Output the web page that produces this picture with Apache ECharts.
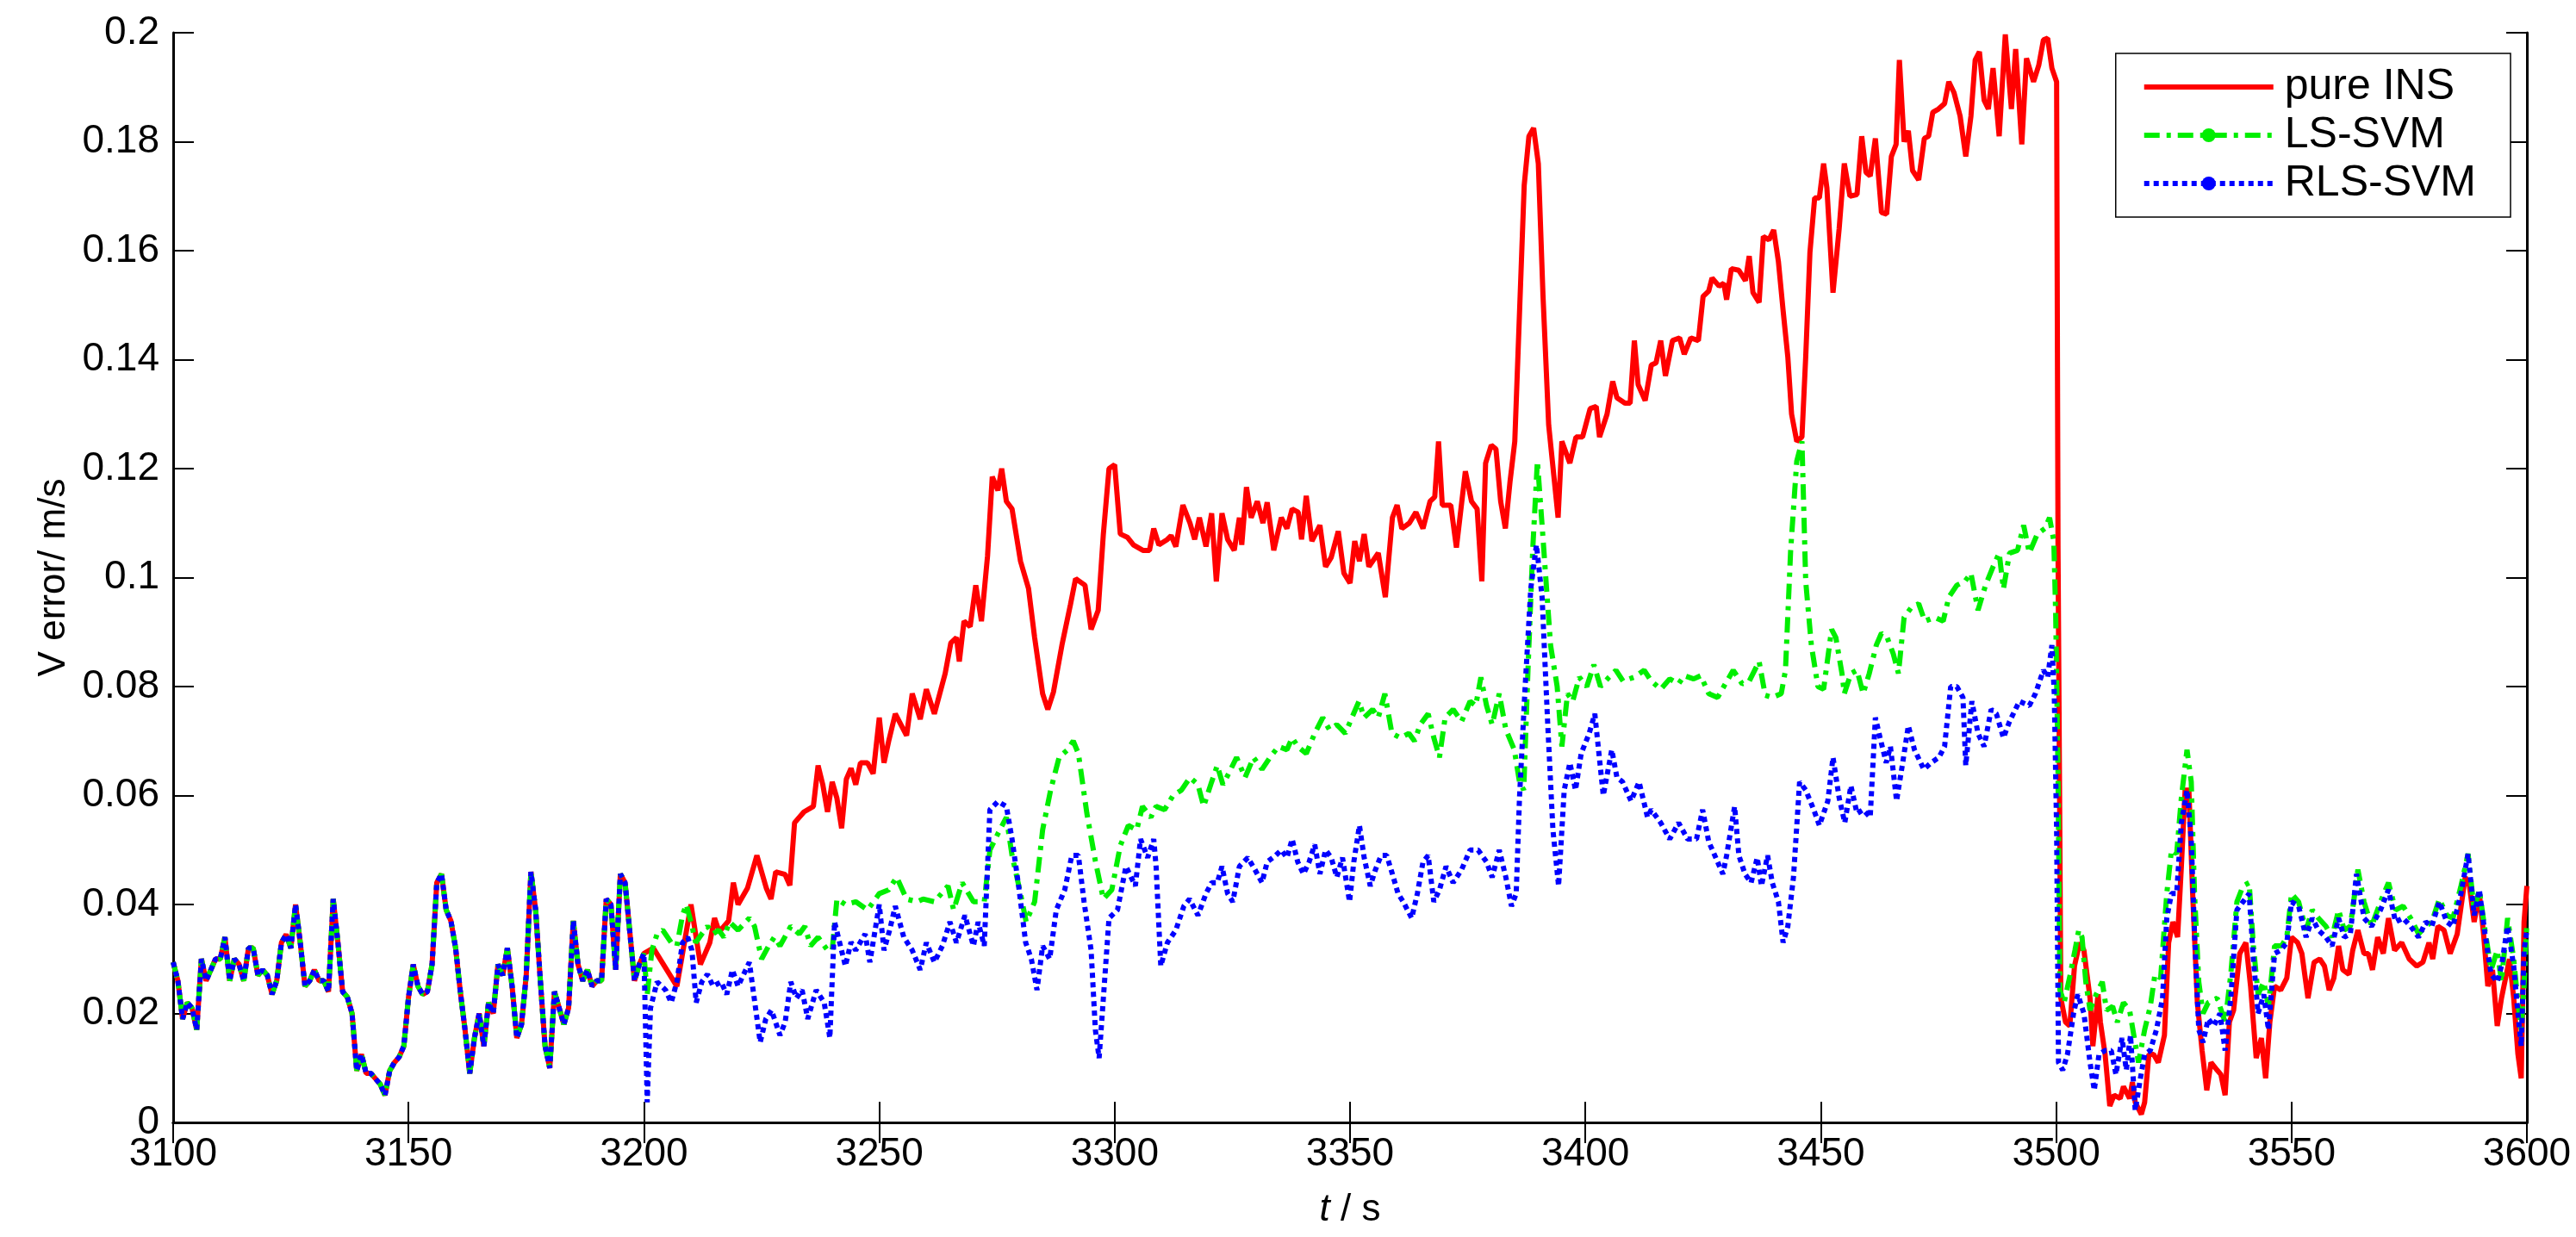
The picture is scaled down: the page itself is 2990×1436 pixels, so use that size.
<!DOCTYPE html>
<html>
<head>
<meta charset="utf-8">
<script src="https://cdn.jsdelivr.net/npm/echarts@6/dist/echarts.min.js"></script>
<style>
  html, body { margin: 0; padding: 0; background: #fff; }
  #chart { width: 2990px; height: 1436px; }
</style>
</head>
<body>
<div id="chart"></div>
<script>
// t (s), V error (m/s) — 3100..3200 all three curves coincide
var shared = [
  [3100,0.0294],[3101,0.026],[3102,0.019],[3103,0.022],[3104,0.021],[3105,0.017],[3106,0.030],[3107,0.026],
  [3108,0.028],[3109,0.030],[3110,0.030],[3111,0.034],[3112,0.026],[3113,0.030],[3114,0.029],[3115,0.026],
  [3116,0.032],[3117,0.032],[3118,0.027],[3119,0.028],[3120,0.027],[3121,0.0235],[3122,0.026],[3123,0.033],
  [3124,0.0345],[3125,0.032],[3126,0.040],[3127,0.033],[3128,0.025],[3129,0.026],[3130,0.028],[3131,0.026],
  [3132,0.026],[3133,0.024],[3134,0.041],[3135,0.033],[3136,0.024],[3137,0.023],[3138,0.020],[3139,0.0095],
  [3140,0.0125],[3141,0.009],[3142,0.009],[3143,0.008],[3144,0.007],[3145,0.005],[3146,0.0095],[3147,0.011],
  [3148,0.012],[3149,0.014],[3150,0.023],[3151,0.029],[3152,0.025],[3153,0.0235],[3154,0.024],[3155,0.029],
  [3156,0.044],[3157,0.0456],[3158,0.039],[3159,0.037],[3160,0.032],[3161,0.024],[3162,0.017],[3163,0.009],
  [3164,0.0155],[3165,0.020],[3166,0.014],[3167,0.022],[3168,0.020],[3169,0.029],[3170,0.027],[3171,0.032],
  [3172,0.025],[3173,0.0155],[3174,0.018],[3175,0.027],[3176,0.046],[3177,0.039],[3178,0.026],[3179,0.014],
  [3180,0.010],[3181,0.024],[3182,0.021],[3183,0.018],[3184,0.021],[3185,0.037],[3186,0.029],[3187,0.026],
  [3188,0.028],[3189,0.025],[3190,0.026],[3191,0.026],[3192,0.041],[3193,0.040],[3194,0.028],[3195,0.0456],
  [3196,0.044],[3197,0.035],[3198,0.026],[3199,0.029],[3200,0.031]
];

var pureIns = [
  [3202,0.032],[3207,0.025],[3209,0.035],[3210,0.040],[3212,0.029],[3214,0.033],[3215,0.0375],[3216,0.035],
  [3218,0.037],[3219,0.044],[3220,0.040],[3222,0.043],[3224,0.049],[3226,0.043],[3227,0.041],[3228,0.046],
  [3230,0.0455],[3231,0.0435],[3232,0.055],[3234,0.057],[3236,0.058],[3237,0.0655],[3238,0.062],[3239,0.057],
  [3240,0.0625],[3241,0.0595],[3242,0.054],[3243,0.063],[3244,0.065],[3245,0.062],[3246,0.066],[3247.5,0.066],
  [3248.7,0.064],[3250,0.0743],[3251,0.066],[3252,0.070],[3253.4,0.075],[3255.8,0.071],[3257,0.0787],[3258.7,0.074],
  [3260,0.0795],[3261.7,0.075],[3264,0.0824],[3265.2,0.088],[3266.4,0.089],[3267,0.0846],[3268,0.092],[3269.3,0.091],
  [3270.5,0.0986],[3271.7,0.092],[3273,0.104],[3274,0.1185],[3275.2,0.116],[3276,0.120],[3277,0.114],[3278.2,0.1126],
  [3280,0.103],[3281.7,0.098],[3283,0.089],[3284.7,0.0787],[3285.8,0.0758],[3287,0.079],[3288.8,0.0876],[3290.6,0.095],
  [3291.7,0.0998],[3293.7,0.0986],[3295,0.0905],[3296.5,0.094],[3297.6,0.108],[3298.8,0.120],[3300,0.1207],[3301.2,0.108],
  [3302.7,0.1074],[3304,0.106],[3306,0.105],[3307.4,0.105],[3308.3,0.109],[3309.4,0.106],[3311.2,0.107],[3312,0.1077],
  [3313,0.1057],[3314.5,0.1133],[3316,0.110],[3317,0.107],[3318,0.111],[3319.4,0.1057],[3320.6,0.1118],[3321.6,0.0993],
  [3322.8,0.1118],[3324,0.107],[3325.4,0.105],[3326.5,0.111],[3327,0.106],[3328,0.1166],[3329,0.111],[3330.3,0.114],
  [3331.5,0.110],[3332.4,0.1138],[3333.8,0.105],[3335.4,0.111],[3336.6,0.109],[3337.7,0.1126],[3339,0.112],[3339.7,0.107],
  [3340.7,0.115],[3341.9,0.1067],[3343.6,0.1096],[3344.8,0.102],[3346,0.1037],[3347.5,0.1085],[3348.7,0.1008],[3350,0.099],
  [3351,0.1067],[3352,0.103],[3353,0.108],[3354,0.102],[3356,0.1045],[3357.5,0.0964],[3359,0.111],[3360,0.1133],
  [3361,0.109],[3362.6,0.110],[3364,0.112],[3365.5,0.109],[3367,0.114],[3368,0.1148],[3368.8,0.125],[3369.6,0.1133],
  [3371.4,0.1133],[3372.6,0.1055],[3374.5,0.1195],[3375.8,0.114],[3377,0.1126],[3378,0.0993],[3378.8,0.121],[3380,0.1243],
  [3381,0.1236],[3382,0.114],[3383,0.109],[3384,0.1177],[3385,0.125],[3387,0.172],[3388,0.181],[3389,0.1825],
  [3390,0.176],[3391,0.1516],[3392.2,0.128],[3394.2,0.111],[3395,0.125],[3396.7,0.121],[3398,0.1258],[3399.4,0.1258],
  [3401,0.131],[3402.3,0.1314],[3403,0.1258],[3404.6,0.130],[3405.8,0.136],[3406.7,0.133],[3408.4,0.132],[3409.5,0.132],
  [3410.4,0.1435],[3411.2,0.1354],[3412.7,0.1325],[3414,0.139],[3415,0.1394],[3416,0.1435],[3417,0.137],[3418.5,0.1435],
  [3420,0.144],[3421,0.141],[3422.4,0.144],[3424,0.1435],[3425,0.1516],[3426.2,0.1526],[3426.9,0.155],[3428.4,0.1535],
  [3429.4,0.154],[3430,0.151],[3431,0.1567],[3432.6,0.1564],[3434,0.1545],[3434.8,0.159],[3435.6,0.1523],[3436.9,0.1505],
  [3437.8,0.1626],[3439,0.162],[3440,0.1638],[3441,0.158],[3442,0.149],[3443,0.1405],[3443.8,0.130],[3444.9,0.125],
  [3446,0.1258],[3446.8,0.1405],[3447.7,0.1597],[3448.7,0.1697],[3449.7,0.1697],[3450.6,0.176],[3451.3,0.1715],[3452.6,0.1523],
  [3453.9,0.164],[3455,0.176],[3456.2,0.170],[3457.7,0.1703],[3458.7,0.181],[3459.6,0.1744],[3460.5,0.1737],[3461.6,0.1806],
  [3462.9,0.167],[3464,0.1667],[3465,0.1773],[3466,0.1795],[3466.7,0.195],[3467.7,0.180],[3468.6,0.182],[3469.5,0.1747],
  [3470.8,0.173],[3472,0.1806],[3472.9,0.181],[3473.8,0.1854],[3475,0.186],[3476.3,0.187],[3477.2,0.191],[3478.3,0.189],
  [3479.6,0.1847],[3480.8,0.1773],[3481.9,0.1847],[3482.8,0.195],[3483.7,0.1965],[3484.7,0.1876],[3485.6,0.186],[3486.6,0.1935],
  [3487.9,0.181],[3489.2,0.1997],[3490.5,0.186],[3491.4,0.197],[3492.7,0.1795],[3493.7,0.1953],[3495.2,0.191],[3496.3,0.194],
  [3497.3,0.1987],[3498.2,0.199],[3499.1,0.1935],[3500.1,0.191],[3500.4,0.1053],[3501,0.0228],[3502,0.0184],[3502.9,0.0177],
  [3503.9,0.0287],[3505,0.033],[3505.9,0.0316],[3507.2,0.0228],[3507.8,0.014],[3508.9,0.0235],[3509.4,0.0184],[3510.4,0.0125],
  [3511.4,0.003],[3512.3,0.005],[3513.6,0.0044],[3514.3,0.0066],[3515.6,0.0044],[3516.2,0.0074],[3516.8,0.0037],[3518.1,0.0015],
  [3518.8,0.0037],[3519.7,0.0125],[3520.7,0.0125],[3521.7,0.011],[3523,0.016],[3523.9,0.033],[3524.8,0.0368],[3525.8,0.034],
  [3526.6,0.047],[3527.4,0.061],[3528.2,0.061],[3529,0.042],[3530,0.022],[3531,0.0132],[3532,0.0059],[3532.9,0.011],
  [3534.2,0.0096],[3535,0.0088],[3535.9,0.005],[3536.8,0.0184],[3537.7,0.0206],[3539,0.031],[3540.3,0.033],[3541.3,0.025],
  [3542.5,0.0118],[3543.6,0.0155],[3544.5,0.0081],[3545.4,0.0184],[3546.4,0.025],[3547.7,0.0243],[3549,0.0265],[3550,0.034],
  [3551.3,0.033],[3552.2,0.031],[3553.5,0.0228],[3554.8,0.0294],[3556,0.030],[3557,0.0287],[3558,0.0243],[3559,0.0265],
  [3560,0.0324],[3560.9,0.028],[3562.2,0.0272],[3563,0.0316],[3564.1,0.0353],[3565.4,0.031],[3566.3,0.031],[3567.2,0.028],
  [3568.3,0.034],[3569.5,0.031],[3570.6,0.0375],[3571.9,0.0316],[3573.4,0.033],[3575,0.030],[3576.6,0.0287],[3577.9,0.0294],
  [3579.2,0.033],[3580,0.030],[3581.1,0.036],[3582.4,0.0353],[3583.7,0.031],[3585.2,0.0346],[3586.9,0.045],[3587.8,0.0434],
  [3588.8,0.0368],[3589.9,0.042],[3590.8,0.0346],[3591.7,0.025],[3592.7,0.028],[3593.7,0.0177],[3594.6,0.0228],[3596.3,0.030],
  [3597.2,0.0228],[3598.1,0.0125],[3598.8,0.0081],[3599.4,0.0368],[3600,0.0434]
];

var lsSvm = [
  [3200.7,0.0235],[3201.7,0.0316],[3202.8,0.0346],[3204,0.0353],[3205.8,0.033],[3207,0.0324],[3208.2,0.038],[3209,0.040],
  [3210,0.0368],[3211,0.033],[3212.3,0.0346],[3213.5,0.036],[3214.7,0.0346],[3215.9,0.0353],[3217,0.034],[3218.2,0.0368],
  [3220,0.0353],[3222.4,0.0375],[3223.5,0.036],[3225,0.030],[3226.5,0.0324],[3227.7,0.034],[3228.9,0.0324],[3231.2,0.036],
  [3233,0.0346],[3234.2,0.036],[3235.4,0.0324],[3237,0.034],[3239,0.0316],[3240,0.0316],[3241,0.041],[3242.8,0.040],
  [3245,0.0405],[3247.5,0.039],[3250,0.042],[3252,0.0427],[3253.7,0.045],[3255.8,0.041],[3258,0.0405],[3259.3,0.041],
  [3261.7,0.0405],[3264.6,0.0434],[3265.8,0.039],[3267.6,0.044],[3270,0.0405],[3272.3,0.0405],[3273.5,0.050],[3275.2,0.053],
  [3277,0.056],[3278.2,0.049],[3280,0.042],[3281.2,0.0368],[3283,0.0405],[3284.7,0.0537],[3286.4,0.061],[3288.2,0.067],
  [3290,0.0684],[3291.2,0.070],[3292.3,0.0677],[3294.1,0.0567],[3295.9,0.048],[3297.6,0.041],[3299.4,0.0427],[3301.2,0.0508],
  [3302.9,0.0545],[3304.7,0.0537],[3305.9,0.058],[3307.7,0.056],[3308.8,0.058],[3310.6,0.0574],[3312.4,0.060],[3314.2,0.061],
  [3316,0.0633],[3317.7,0.062],[3318.9,0.058],[3320.6,0.0625],[3321.8,0.0655],[3323,0.062],[3324.2,0.064],[3325.9,0.067],
  [3327.7,0.0633],[3329.5,0.067],[3331.3,0.0648],[3333,0.067],[3334.8,0.069],[3336.6,0.0684],[3337.7,0.0706],[3338.9,0.069],
  [3340.7,0.0677],[3342.5,0.0714],[3344.2,0.0743],[3345.6,0.0721],[3347.2,0.073],[3349,0.0714],[3350.4,0.0743],[3351.9,0.0773],
  [3353,0.0743],[3354.8,0.0758],[3356,0.0743],[3357.4,0.0787],[3358.9,0.0714],[3360.7,0.0706],[3362.5,0.0714],[3363.7,0.070],
  [3364.9,0.073],[3366.6,0.075],[3367.8,0.0706],[3369,0.067],[3370.2,0.0743],[3371.9,0.0758],[3373.7,0.0736],[3375.5,0.0773],
  [3376.7,0.0765],[3377.8,0.0817],[3379,0.0765],[3380.2,0.073],[3381.7,0.0787],[3383.1,0.0721],[3384.9,0.0684],[3386,0.0625],
  [3386.9,0.061],[3387.8,0.083],[3388.8,0.105],[3389.8,0.1214],[3390.8,0.1096],[3392.6,0.0876],[3394,0.080],[3395,0.069],
  [3396.2,0.0787],[3397.3,0.0773],[3398.7,0.0817],[3400.3,0.080],[3401.8,0.084],[3403.2,0.080],[3405,0.0817],[3406.5,0.083],
  [3408,0.081],[3410.3,0.0817],[3412.5,0.083],[3414,0.081],[3416,0.0795],[3417.9,0.0814],[3419.8,0.0805],[3421,0.082],
  [3423,0.0814],[3424.5,0.082],[3426.2,0.0787],[3428.1,0.078],[3429.4,0.080],[3431.4,0.083],[3433.3,0.0805],[3434.8,0.081],
  [3436.9,0.0846],[3438.2,0.0784],[3439.7,0.078],[3441.6,0.0787],[3442.5,0.083],[3443.6,0.105],[3444.9,0.1214],[3446,0.125],
  [3446.8,0.0993],[3448,0.0876],[3449.4,0.080],[3450.6,0.0795],[3452.3,0.0905],[3453.2,0.089],[3454.5,0.0824],[3455,0.0787],
  [3456.4,0.0824],[3457.7,0.083],[3459,0.0787],[3460.3,0.0824],[3461.8,0.0876],[3462.9,0.0898],[3464.1,0.089],[3465.4,0.086],
  [3466.5,0.0824],[3467.7,0.0927],[3469.3,0.0946],[3470.8,0.0952],[3472.1,0.092],[3474.2,0.0927],[3476,0.092],[3477.2,0.0964],
  [3478.9,0.0986],[3480.6,0.0993],[3481.9,0.1008],[3483.4,0.094],[3485,0.0986],[3486.6,0.102],[3487.9,0.1045],[3488.8,0.0979],
  [3490.1,0.1045],[3491.8,0.105],[3493.1,0.1096],[3494.3,0.1045],[3496,0.108],[3497.6,0.109],[3498.6,0.111],[3499.5,0.1067],
  [3499.9,0.0935],[3500.4,0.064],[3500.8,0.0243],[3501.7,0.022],[3503,0.0272],[3504,0.0316],[3504.8,0.0353],[3505.5,0.034],
  [3506.3,0.0258],[3507.2,0.0206],[3508.5,0.0235],[3509.8,0.0258],[3510.7,0.0206],[3512,0.0213],[3513,0.0184],[3514.3,0.022],
  [3515.6,0.0206],[3516.6,0.0155],[3517.5,0.011],[3518.8,0.017],[3520,0.0213],[3521,0.0272],[3522.2,0.0265],[3523.5,0.042],
  [3524.5,0.050],[3525.6,0.0493],[3526.6,0.0596],[3527.8,0.0684],[3528.7,0.0625],[3529.4,0.042],[3530.3,0.0258],[3531.2,0.020],
  [3532.3,0.022],[3534.2,0.0228],[3535.9,0.0184],[3537.1,0.0272],[3538.4,0.0405],[3539.7,0.0434],[3541,0.044],[3541.9,0.0324],
  [3542.9,0.0235],[3544.1,0.0258],[3545.1,0.0213],[3546.4,0.0324],[3547.9,0.0324],[3549,0.034],[3550,0.042],[3551.5,0.0405],
  [3553.1,0.0353],[3554.4,0.039],[3555.7,0.0375],[3557.3,0.036],[3558.6,0.034],[3560,0.039],[3561.2,0.0353],[3562.5,0.036],
  [3564.1,0.0464],[3565.4,0.0405],[3567,0.036],[3568.9,0.0405],[3570.6,0.044],[3572.1,0.039],[3573.7,0.0397],[3575.3,0.0375],
  [3577,0.0346],[3578.5,0.036],[3579.8,0.0368],[3581.4,0.041],[3583,0.038],[3584.3,0.0375],[3586,0.0434],[3587.5,0.0493],
  [3588.8,0.039],[3589.9,0.0427],[3591.1,0.0353],[3592.4,0.028],[3593.7,0.0316],[3594.6,0.0258],[3595.9,0.0375],[3597.2,0.030],
  [3598.1,0.022],[3598.8,0.017],[3599.4,0.025],[3600,0.0368]
];

var rlsSvm = [
  [3200.7,0.0037],[3201.4,0.021],[3202.8,0.0258],[3204.6,0.0243],[3205.8,0.022],[3207,0.0258],[3208.2,0.033],[3209.3,0.034],
  [3210.2,0.0316],[3211.1,0.022],[3212.3,0.0258],[3213.5,0.0272],[3214.7,0.025],[3216.4,0.0258],[3217.6,0.0235],[3218.8,0.028],
  [3220,0.025],[3222.4,0.0294],[3224.7,0.0147],[3225.9,0.019],[3227.1,0.0206],[3228.9,0.016],[3230,0.0184],[3231.2,0.0258],
  [3232.4,0.0228],[3233.6,0.0243],[3234.8,0.019],[3236.6,0.0243],[3238.3,0.022],[3239.5,0.0155],[3240.5,0.0368],[3242.8,0.0287],
  [3244,0.0331],[3245,0.0316],[3247,0.0346],[3248,0.0294],[3250,0.040],[3251,0.0316],[3252.2,0.0353],[3253.4,0.0397],
  [3255.2,0.034],[3257,0.0316],[3258.7,0.028],[3260,0.033],[3261.7,0.0294],[3263.4,0.0324],[3265,0.0368],[3266.4,0.033],
  [3268.2,0.038],[3270,0.0324],[3271,0.0368],[3272.3,0.0324],[3273.5,0.0574],[3275.2,0.0589],[3277,0.058],[3278.2,0.052],
  [3279.6,0.0434],[3281.1,0.033],[3282.3,0.030],[3283.5,0.0243],[3284.7,0.0324],[3286.2,0.030],[3287.6,0.039],[3289.4,0.0427],
  [3290.9,0.049],[3292.3,0.049],[3293.5,0.0405],[3295,0.0316],[3295.9,0.017],[3296.7,0.0118],[3297.6,0.0228],[3298.8,0.0375],
  [3300.6,0.039],[3302.4,0.047],[3303.5,0.045],[3304.4,0.0434],[3305.5,0.052],[3307,0.0486],[3308.3,0.052],[3308.8,0.047],
  [3309.8,0.0287],[3311.2,0.033],[3313,0.0353],[3314.7,0.0397],[3315.9,0.041],[3317.7,0.038],[3319.4,0.042],[3320.6,0.044],
  [3321.8,0.044],[3322.8,0.047],[3324,0.042],[3325.1,0.0405],[3326.5,0.047],[3328.3,0.0486],[3329.8,0.0464],[3331.3,0.044],
  [3332.4,0.0478],[3334.2,0.049],[3335.4,0.050],[3336.6,0.0486],[3337.7,0.052],[3338.9,0.0478],[3340.1,0.0456],[3341.3,0.0478],
  [3342.5,0.051],[3343.6,0.0456],[3344.8,0.050],[3346,0.0486],[3347.2,0.045],[3348.4,0.0486],[3349.9,0.0405],[3350.8,0.0478],
  [3352,0.0545],[3353,0.0486],[3354.3,0.0434],[3355.4,0.0464],[3356.6,0.049],[3357.8,0.049],[3359,0.0456],[3360.2,0.042],
  [3361.3,0.0405],[3363.1,0.0375],[3364.3,0.042],[3365.5,0.0478],[3366.6,0.049],[3367.8,0.0405],[3369,0.0427],[3370.4,0.047],
  [3371.9,0.044],[3373.7,0.0464],[3375.5,0.050],[3377.2,0.050],[3379,0.0478],[3380.2,0.045],[3381.7,0.050],[3383.1,0.045],
  [3384.3,0.0397],[3385.3,0.042],[3386,0.0596],[3387.2,0.080],[3388.4,0.098],[3389.6,0.106],[3390.8,0.0964],[3392,0.073],
  [3393.1,0.0537],[3394.3,0.0434],[3395.5,0.061],[3396.7,0.066],[3397.9,0.061],[3399.1,0.0677],[3400.8,0.0714],[3402,0.075],
  [3403.8,0.060],[3405.6,0.0684],[3406.7,0.0633],[3407.9,0.0625],[3409.7,0.059],[3411.4,0.0625],[3413.2,0.056],[3414,0.0574],
  [3416,0.055],[3417.9,0.052],[3419.8,0.055],[3421.7,0.052],[3423.6,0.052],[3424.9,0.0574],[3426.2,0.0515],[3428.1,0.0478],
  [3429.2,0.0456],[3430,0.049],[3431.7,0.058],[3432.6,0.049],[3433.9,0.0456],[3435.2,0.044],[3436.5,0.0486],[3437.4,0.0434],
  [3438.7,0.049],[3439.7,0.044],[3441,0.0405],[3442,0.033],[3443,0.036],[3444.2,0.045],[3445.5,0.0625],[3446.8,0.061],
  [3448.5,0.0574],[3449.7,0.0545],[3451.5,0.059],[3452.6,0.067],[3453.9,0.0596],[3455.1,0.055],[3456.4,0.0618],[3457.7,0.0567],
  [3459,0.0574],[3460.5,0.056],[3461.6,0.0743],[3462.6,0.0706],[3463.9,0.066],[3464.8,0.069],[3466.1,0.059],[3467.4,0.066],
  [3468.6,0.0728],[3469.9,0.0684],[3471.9,0.0648],[3473.4,0.066],[3475.1,0.067],[3476.3,0.069],[3477.6,0.080],[3478.9,0.080],
  [3480.2,0.078],[3480.8,0.0655],[3482.1,0.0773],[3483.4,0.0714],[3484.7,0.069],[3486.2,0.0758],[3487.3,0.075],[3488.8,0.0706],
  [3490.1,0.0736],[3492.2,0.0773],[3494.3,0.0765],[3495.6,0.0787],[3497.3,0.083],[3498.2,0.0817],[3499.1,0.0876],[3499.6,0.0787],
  [3500.1,0.0537],[3500.5,0.011],[3501.4,0.0096],[3502.4,0.0125],[3503.7,0.020],[3504.6,0.0235],[3505.9,0.020],[3507.2,0.011],
  [3508.1,0.0059],[3509.1,0.0125],[3510.4,0.0132],[3511.7,0.0132],[3512.7,0.0088],[3514,0.0155],[3514.9,0.0096],[3515.8,0.016],
  [3516.8,0.0022],[3517.9,0.0081],[3518.8,0.0125],[3520,0.0132],[3521.3,0.017],[3522.6,0.0228],[3523.5,0.0375],[3524.5,0.042],
  [3525.6,0.042],[3526.6,0.055],[3527.8,0.061],[3528.7,0.052],[3529.4,0.0346],[3530.3,0.017],[3531.2,0.0147],[3532.3,0.019],
  [3533.5,0.0177],[3534.8,0.020],[3535.9,0.0132],[3537.1,0.0228],[3538.4,0.039],[3539.7,0.0405],[3541,0.042],[3541.9,0.030],
  [3542.9,0.020],[3544.1,0.0235],[3545.1,0.017],[3546.4,0.031],[3547.7,0.0316],[3549,0.033],[3550,0.0405],[3551.5,0.0397],
  [3553.1,0.034],[3554.4,0.0375],[3555.7,0.0353],[3557.3,0.034],[3558.6,0.0324],[3560,0.0375],[3561.2,0.034],[3562.5,0.0346],
  [3563.8,0.0456],[3565.4,0.0375],[3567,0.036],[3568.9,0.039],[3570.6,0.0427],[3572.1,0.0368],[3573.7,0.0375],[3575.3,0.036],
  [3577,0.034],[3578.5,0.0368],[3579.8,0.036],[3581.4,0.0405],[3583,0.0368],[3584.3,0.036],[3586,0.042],[3587.5,0.0493],
  [3588.8,0.038],[3589.9,0.0427],[3591.1,0.0346],[3592.4,0.0272],[3593.7,0.0258],[3594.6,0.0287],[3595.9,0.036],[3597.2,0.0287],
  [3598.1,0.020],[3598.8,0.014],[3599.4,0.0316],[3600,0.0353]
];

var seriesNames = ['pure INS', 'LS-SVM', 'RLS-SVM'];

var chart = echarts.init(document.getElementById('chart'));
var font = 'Liberation Sans, Arial, sans-serif';

// axis used both for labelled sides and for the plain top/right frame
function frameAxis(pos, isX) {
    return {
        type: 'value', position: pos, min: isX ? 3100 : 0, max: isX ? 3600 : 0.2,
        interval: isX ? 50 : 0.02,
        axisLine: { show: true, lineStyle: { color: '#000', width: 3 } },
        axisTick: { show: true, inside: true, length: 24, lineStyle: { color: '#000', width: 2 } },
        axisLabel: { show: false },
        splitLine: { show: false }
    };
}

var xBottom = frameAxis('bottom', true);
xBottom.axisLabel = { show: true, color: '#000', fontSize: 46, fontFamily: font, margin: 14,
    formatter: function (v) { return String(v); } };
xBottom.name = '{i|t} / s';
xBottom.nameLocation = 'middle';
xBottom.nameGap = 80;
xBottom.nameTextStyle = { color: '#000', fontSize: 44, fontFamily: font,
    rich: { i: { fontStyle: 'italic', fontSize: 44, fontFamily: font, color: '#000' } } };

var yLeft = frameAxis('left', false);
yLeft.axisLabel = { show: true, color: '#000', fontSize: 46, fontFamily: font, margin: 16 };
yLeft.name = 'V error/ m/s';
yLeft.nameLocation = 'middle';
yLeft.nameGap = 112;
yLeft.nameTextStyle = { color: '#000', fontSize: 44, fontFamily: font };

var option = {
    backgroundColor: '#fff',
    animation: false,
    grid: { left: 201, right: 57, top: 38, bottom: 133 },
    legend: {
        data: [
            { name: 'pure INS', itemStyle: { opacity: 0 } },
            { name: 'LS-SVM' },
            { name: 'RLS-SVM' }
        ],
        orient: 'vertical',
        right: 76, top: 62,
        itemWidth: 150, itemHeight: 20, itemGap: 6,
        padding: [14, 40, 14, 30],
        borderColor: '#000', borderWidth: 1.5, backgroundColor: '#fff',
        lineStyle: { width: 6 },
        textStyle: { color: '#000', fontSize: 50, fontFamily: font, padding: [0, 0, 0, 8] }
    },
    xAxis: [xBottom, frameAxis('top', true)],
    yAxis: [yLeft, frameAxis('right', false)],
    series: [
        {
            name: seriesNames[0], type: 'line', data: shared.concat(pureIns),
            symbol: 'none', lineStyle: { color: '#ff0000', width: 6 }, itemStyle: { color: '#ff0000' }
        },
        {
            name: seriesNames[1], type: 'line', data: shared.concat(lsSvm),
            symbol: 'circle', symbolSize: 14, showSymbol: false,
            lineStyle: { color: '#00ee00', width: 6, type: [18, 8, 5, 8] }, itemStyle: { color: '#00ee00' }
        },
        {
            name: seriesNames[2], type: 'line', data: shared.concat(rlsSvm),
            symbol: 'circle', symbolSize: 14, showSymbol: false,
            lineStyle: { color: '#0000ff', width: 6, type: [6, 5] }, itemStyle: { color: '#0000ff' }
        }
    ]
};
chart.setOption(option);
</script>
</body>
</html>
